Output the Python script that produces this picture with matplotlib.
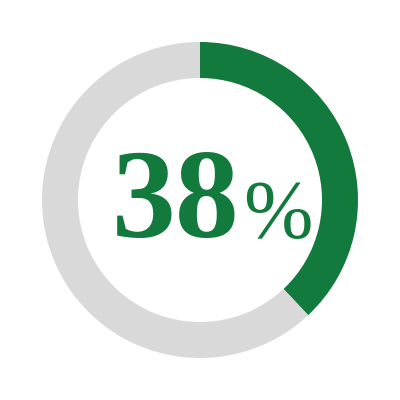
import matplotlib
matplotlib.use("Agg")
import matplotlib.pyplot as plt

labels = ["Share", "Rest"]
values = [38, 62]
colors = ["#127a3c", "#d9d9d9"]
big_text = "38"
small_text = "%"

fig = plt.figure(figsize=(4, 4), dpi=100)
ax = fig.add_axes([0, 0, 1, 1])
ax.pie(values, colors=colors, startangle=90, counterclock=False,
       radius=158, center=(0, 0),
       wedgeprops=dict(width=36, linewidth=0))
ax.set_xlim(-200, 200)
ax.set_ylim(-200, 200)
ax.set_aspect("equal")
ax.axis("off")

ax.text(40, -37, big_text, ha="right", va="baseline", color=colors[0],
        fontsize=92, fontweight="bold", family="Liberation Serif")
ax.text(43, -37, small_text, ha="left", va="baseline", color=colors[0],
        fontsize=60, family="Liberation Serif")

fig.savefig("out.png", dpi=100)
